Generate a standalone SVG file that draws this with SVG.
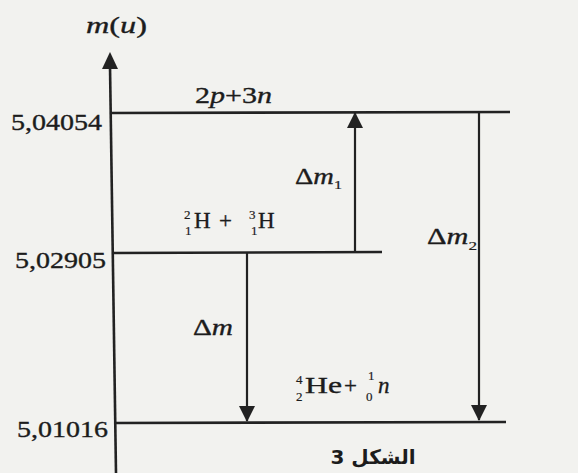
<svg xmlns="http://www.w3.org/2000/svg" width="578" height="473" viewBox="0 0 578 473">
<defs>
<style>
.t{font-family:"Liberation Serif","Times New Roman",serif;fill:#1c1c1c;font-size:23px;stroke:#1c1c1c;stroke-width:0.35}
.i{font-style:italic}
.s{font-size:13px;stroke-width:0.2}
.n{font-size:23px}
.ln{stroke:#222;stroke-width:2.6;fill:none}
.ar{stroke:#222;stroke-width:2.2;fill:none}
.cap{font-family:"DejaVu Sans","Noto Sans",sans-serif;font-weight:bold;font-size:20px;fill:#1c1c1c}
</style>
<marker id="ah" viewBox="0 0 16 16" refX="15" refY="8" markerWidth="16" markerHeight="16" markerUnits="userSpaceOnUse" orient="auto">
<path d="M0,0 L16,8 L0,16 Z" fill="#222"/>
</marker>
</defs>
<rect width="578" height="473" fill="#f2f2ef"/>

<g id="axis">
<line class="ln" x1="110" y1="66" x2="116" y2="473"/>
<path d="M110,52 L118,69 L102,69 Z" fill="#222"/>
<text class="t" x="86" y="33" font-size="24" textLength="61" lengthAdjust="spacingAndGlyphs"><tspan class="i">m</tspan>(<tspan class="i">u</tspan>)</text>
</g>

<g id="level-top">
<line class="ln" x1="110" y1="113" x2="510" y2="112"/>
<text class="t" x="11" y="130" textLength="91" lengthAdjust="spacingAndGlyphs">5,04054</text>
<text class="t" x="195" y="103" font-size="22" textLength="77" lengthAdjust="spacingAndGlyphs">2<tspan class="i">p</tspan>+3<tspan class="i">n</tspan></text>
</g>

<g id="level-mid">
<line class="ln" x1="113" y1="253" x2="382" y2="252"/>
<text class="t" x="15" y="268" textLength="91" lengthAdjust="spacingAndGlyphs">5,02905</text>
<text class="t s" x="184" y="219">2</text>
<text class="t s" x="185" y="235">1</text>
<text class="t n" x="194" y="228">H</text>
<text class="t n" x="219" y="228">+</text>
<text class="t s" x="249" y="219">3</text>
<text class="t s" x="251" y="235">1</text>
<text class="t n" x="258" y="228">H</text>
</g>

<g id="level-bottom">
<line class="ln" x1="115" y1="423" x2="506" y2="422"/>
<text class="t" x="17" y="437" textLength="91" lengthAdjust="spacingAndGlyphs">5,01016</text>
<text class="t s" x="296" y="384">4</text>
<text class="t s" x="296" y="401">2</text>
<text class="t n" x="305" y="393" textLength="37" lengthAdjust="spacingAndGlyphs">He</text>
<text class="t n" x="344" y="393">+</text>
<text class="t s" x="368" y="380">1</text>
<text class="t s" x="366" y="401">0</text>
<text class="t i n" x="378" y="393">n</text>
</g>

<g id="connectors">
<line class="ar" x1="355" y1="252" x2="355" y2="113" marker-end="url(#ah)"/>
<line class="ar" x1="247" y1="253" x2="247" y2="421" marker-end="url(#ah)"/>
<line class="ar" x1="479" y1="112" x2="479" y2="420" marker-end="url(#ah)"/>
<text class="t" x="295" y="184" textLength="47" lengthAdjust="spacingAndGlyphs">Δ<tspan class="i">m</tspan><tspan class="s" dy="5">1</tspan></text>
<text class="t" x="193" y="335" textLength="40" lengthAdjust="spacingAndGlyphs">Δ<tspan class="i">m</tspan></text>
<text class="t" x="427" y="244" textLength="50" lengthAdjust="spacingAndGlyphs">Δ<tspan class="i">m</tspan><tspan class="s" dy="6">2</tspan></text>
</g>

<g id="caption">
<text class="cap" x="373" y="464" direction="rtl" text-anchor="middle">الشكل 3</text>
</g>
</svg>
